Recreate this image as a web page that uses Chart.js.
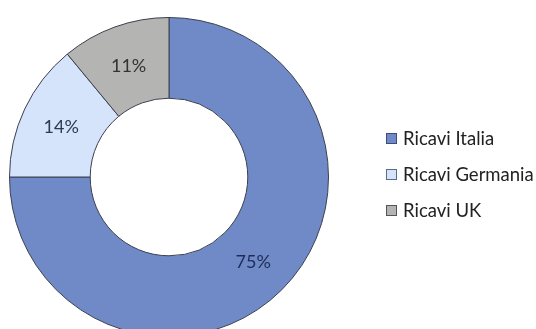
<!DOCTYPE html>
<html>
<head>
<meta charset="utf-8">
<script src="https://cdn.jsdelivr.net/npm/chart.js@4.4.1/dist/chart.umd.min.js"></script>
<style>
  html, body { margin: 0; padding: 0; width: 536px; height: 329px; overflow: hidden; background: #fff; }
  #wrap { position: relative; width: 536px; height: 354px; }
  #legend { position: absolute; left: 386px; top: 128px; font-family: Lato, "Open Sans", sans-serif; font-size: 18.5px; line-height: 20px; color: #222; }
  .row { height: 36px; display: flex; align-items: flex-start; }
  .sw { width: 9px; height: 9px; border: 1px solid #444; margin-top: 5px; margin-right: 6px; }
</style>
</head>
<body>
<div id="wrap">
  <canvas id="c" width="536" height="354"></canvas>
  <div id="legend"></div>
</div>
<script>
// ─── Data ────────────────────────────────────────────
var labels = ['Ricavi Italia', 'Ricavi Germania', 'Ricavi UK'];
var values = [75, 14, 11];
var colors = ['#6f8ac6', '#d5e3fb', '#b4b4b2'];
var swatchBorders = ['#3d4d7a', '#5a6a8a', '#555555'];
var labelColors = ['#1e2d57', '#2c3a52', '#333333'];

// ─── Percent labels drawn at the arc centers ─────────
var pctLabels = {
  id: 'pctLabels',
  afterDatasetsDraw: function(chart) {
    var ctx = chart.ctx;
    var meta = chart.getDatasetMeta(0);
    var total = values.reduce(function(a, b) { return a + b; }, 0);
    ctx.save();
    ctx.font = '18px Lato, "Open Sans", sans-serif';
    ctx.textAlign = 'center';
    ctx.textBaseline = 'middle';
    meta.data.forEach(function(arc, i) {
      var p = arc.tooltipPosition();
      ctx.fillStyle = labelColors[i];
      ctx.fillText(Math.round(values[i] / total * 100) + '%', p.x, p.y + 1);
    });
    ctx.restore();
  }
};

new Chart(document.getElementById('c').getContext('2d'), {
  type: 'doughnut',
  data: {
    labels: labels,
    datasets: [{
      data: values,
      backgroundColor: colors,
      borderColor: '#3a4050',
      borderWidth: 1,
      hoverOffset: 0
    }]
  },
  options: {
    responsive: false,
    animation: false,
    cutout: '49.4%',
    layout: { padding: { left: 9, right: 207, top: 17, bottom: 17 } },
    plugins: { legend: { display: false }, tooltip: { enabled: false } }
  },
  plugins: [pctLabels]
});

// ─── Legend ──────────────────────────────────────────
var lg = document.getElementById('legend');
labels.forEach(function(l, i) {
  var row = document.createElement('div');
  row.className = 'row';
  row.innerHTML = '<div class="sw" style="background:' + colors[i] + ';border-color:' + swatchBorders[i] + '"></div><span>' + l + '</span>';
  lg.appendChild(row);
});
</script>
</body>
</html>
